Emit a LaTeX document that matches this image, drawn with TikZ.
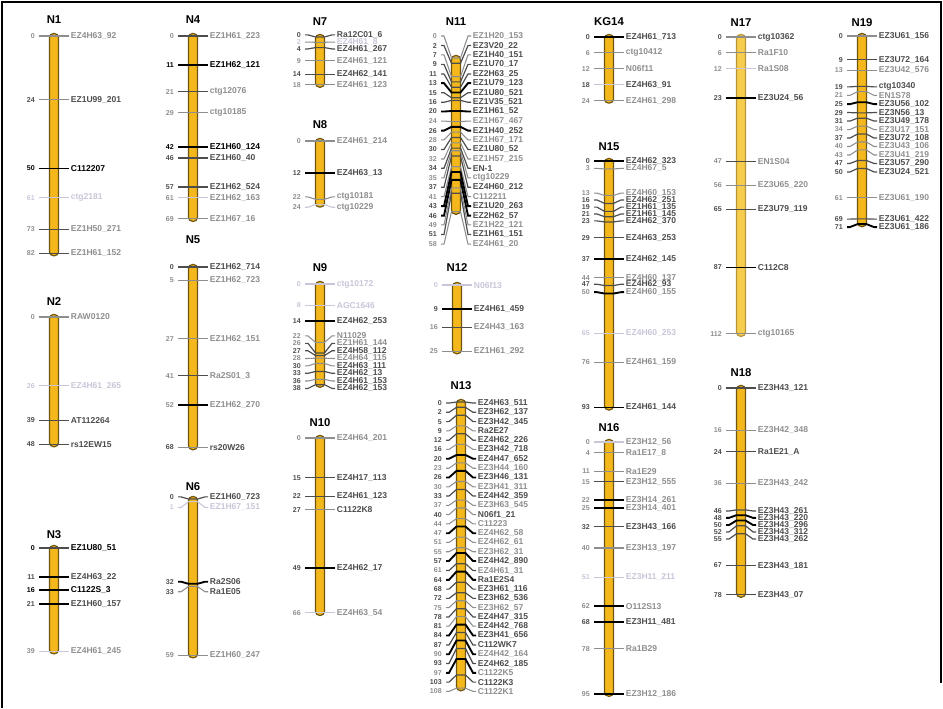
\documentclass[tikz,border=0pt]{standalone}
\usepackage{fontspec}
\setmainfont{Liberation Sans}
\usetikzlibrary{calc}
\definecolor{barfill}{HTML}{F4B81C}
\definecolor{baredge}{HTML}{6E560E}
\definecolor{barfilllt}{HTML}{F6CD4C}
\definecolor{baredgelt}{HTML}{B8953A}
\definecolor{s1}{HTML}{000000}
\definecolor{s2}{HTML}{4D4D4D}
\definecolor{s3}{HTML}{8E8E8E}
\definecolor{s4}{HTML}{C8C6D8}
\tikzset{
  bar/.style={fill=barfill, draw=baredge, line width=0.9pt, rounded corners=3pt},
  barlt/.style={fill=barfilllt, draw=baredgelt, line width=0.9pt, rounded corners=3pt},
  ttl/.style={font=\bfseries\fontsize{8.5}{8.5}\selectfont, inner sep=0pt},
  num/.style={font=\bfseries\fontsize{5.3}{5.3}\selectfont, anchor=east, inner xsep=3pt, inner ysep=0pt},
  lbl/.style={font=\bfseries\fontsize{6.4}{6.4}\selectfont, anchor=west, inner xsep=1.2pt, inner ysep=0pt},
  mk1/.style={draw=s1, line width=1.4pt},
  mk2/.style={draw=s2, line width=0.9pt},
  mk3/.style={draw=s3, line width=0.8pt},
  mk4/.style={draw=s4, line width=0.8pt},
  frame/.style={draw=black, line width=1.2pt},
}
% [bar style]{name}{x}{top y}{length in cM}{title y}{cM/label cM/marker/line shade/text shade}
\newcommand{\chrom}[7][bar]{%
  \pgfmathsetmacro\cbot{#4+#5*2.65}
  \draw[#1] (#3-4.5,#4-2.5) rectangle (#3+4.5,\cbot+2.5);
  \node[ttl] (#2) at (#3,#6) {#2};
  \foreach \pos/\lab/\nm/\ls/\ts [count=\i] in {#7} {
    \pgfmathsetmacro\ty{#4+\pos*2.65}
    \pgfmathsetmacro\ly{#4+\lab*2.65}
    \node[num, text=s\ts] (#2c\i) at (#3-15,\ly) {\pos};
    \node[lbl, text=s\ts] (#2m\i) at (#3+15,\ly) {\nm};
    \draw[mk\ls] (#2c\i.east) -- ++(3,0) -- (#3-4.5,\ty) -- (#3+4.5,\ty)
      -- ($(#2m\i.west)+(-3,0)$) -- (#2m\i.west);
  }
}

\begin{document}
\begin{tikzpicture}[x=0.75pt, y=-0.75pt]
  \useasboundingbox (0,0) rectangle (943,708);
  % frame
  \draw[frame] (2,708) -- (2,2) -- (941,2) -- (941,683);

  % column 1
  \chrom{N1}{54}{36}{82}{20}{0/0/EZ4H63\_92/3/3, 24/24/EZ1U99\_201/3/2, 50/50/C112207/1/1,
    61/61/ctg2181/4/4, 73/73/EZ1H50\_271/2/3, 82/82/EZ1H61\_152/2/3}
  \chrom{N2}{54}{317}{48}{302}{0/0/RAW0120/3/3, 26/26/EZ4H61\_265/4/4, 39/39/AT112264/2/2,
    48/48/rs12EW15/2/2}
  \chrom{N3}{54}{548}{39}{535}{0/0/EZ1U80\_51/2/1, 11/11/EZ4H63\_22/1/2, 16/16/C1122S\_3/1/1,
    21/21/EZ1H60\_157/1/2, 39/39/EZ4H61\_245/4/3}

  % column 2
  \chrom{N4}{193}{36}{69}{20}{0/0/EZ1H61\_223/2/3, 11/11/EZ1H62\_121/1/1, 21/21/ctg12076/2/3,
    29/29/ctg10185/3/3, 42/42/EZ1H60\_124/1/1, 46/46/EZ1H60\_40/2/2, 57/57/EZ1H62\_524/2/2,
    61/61/EZ1H62\_163/4/3, 69/69/EZ1H67\_16/3/3}
  \chrom{N5}{193}{267}{68}{240}{0/0/EZ1H62\_714/2/2, 5/5/EZ1H62\_723/3/3, 27/27/EZ1H62\_151/3/3,
    41/41/Ra2S01\_3/2/3, 52/52/EZ1H62\_270/1/3, 68/68/rs20W26/3/2}
  \chrom{N6}{193}{499}{59}{487}{0/-0.8/EZ1H60\_723/2/2, 1/3.2/EZ1H67\_151/4/4, 32/31.2/Ra2S06/1/2,
    33/35/Ra1E05/3/2, 59/59/EZ1H60\_247/3/3}

  % column 3
  \chrom{N7}{320}{37}{18}{22}{0/-0.8/Ra12C01\_6/2/2, 2/1.9/EZ4H61\_8/3/4, 4/4.5/EZ4H61\_267/2/2,
    9/9/EZ4H61\_121/3/3, 14/14/EZ4H62\_141/2/2, 18/18/EZ4H61\_123/3/3}
  \chrom{N8}{320}{141}{24}{125}{0/0/EZ4H61\_214/3/3, 12/12/EZ4H63\_13/1/2, 22/21.1/ctg10181/3/3,
    24/25/ctg10229/4/3}
  \chrom{N9}{320}{284}{38}{268}{0/0/ctg10172/4/4, 8/8/AGC1646/4/4, 14/14/EZ4H62\_253/1/2,
    22/19.6/N11029/3/3, 26/22.4/EZ1H61\_144/2/3, 27/25.2/EZ4H58\_112/2/2, 28/28.1/EZ4H64\_115/3/3,
    30/30.9/EZ4H63\_111/3/2, 33/33.7/EZ4H62\_13/2/2, 36/36.6/EZ4H61\_153/3/2, 38/39.4/EZ4H62\_153/2/2}
  \chrom{N10}{320}{438}{66}{423}{0/0/EZ4H64\_201/3/3, 15/15/EZ4H17\_113/2/2, 22/22/EZ4H61\_123/2/2,
    27/27/C1122K8/3/2, 49/49/EZ4H62\_17/1/2, 66/66/EZ4H63\_54/4/3}

  % column 4
  \chrom{N11}{456}{58}{58}{22}{0/-8.3/EZ1H20\_153/3/3, 2/-4.7/EZ3V20\_22/2/2, 7/-1.2/EZ1H40\_151/3/2,
    9/2.4/EZ1U70\_17/2/2, 11/6/EZ2H63\_25/2/2, 13/9.5/EZ1U79\_123/1/2, 15/13.1/EZ1U80\_521/2/2,
    16/16.7/EZ1V35\_521/2/2, 20/20.2/EZ1H61\_52/1/2, 24/23.8/EZ1H67\_467/3/3, 26/27.4/EZ1H40\_252/1/2,
    28/30.9/EZ1H67\_171/3/3, 30/34.5/EZ1U80\_52/2/2, 32/38.1/EZ1H57\_215/3/3, 34/41.6/EN-1/2/2,
    35/45.2/ctg10229/3/3, 37/48.8/EZ4H60\_212/2/2, 41/52.3/C112211/3/3, 43/55.9/EZ1U20\_263/1/2,
    46/59.5/EZ2H62\_57/1/2, 49/63/EZ1H22\_121/3/3, 51/66.6/EZ1H61\_151/2/2, 58/70.2/EZ4H61\_20/3/3}
  \chrom{N12}{457}{285}{25}{268}{0/0/N06f13/4/4, 9/9/EZ4H61\_459/1/2, 16/16/EZ4H43\_163/2/3,
    25/25/EZ1H61\_292/3/3}
  \chrom{N13}{461}{402}{108}{386}{0/0.4/EZ4H63\_511/2/2, 2/3.9/EZ3H62\_137/2/2, 5/7.4/EZ3H42\_345/2/2,
    9/10.9/Ra2E27/3/2, 12/14.4/EZ4H62\_226/2/2, 16/17.9/EZ3H42\_718/3/2, 20/21.4/EZ4H47\_652/1/2,
    23/25/EZ3H44\_160/3/3, 26/28.5/EZ3H46\_131/1/2, 30/32/EZ3H41\_311/3/3, 33/35.5/EZ4H42\_359/2/2,
    37/39/EZ3H63\_545/3/3, 40/42.5/N06f1\_21/3/2, 44/46/C11223/3/3, 47/49.5/EZ4H62\_58/1/3,
    51/53/EZ4H62\_61/3/3, 55/56.5/EZ3H62\_31/3/3, 57/60/EZ4H42\_890/1/2, 61/63.6/EZ4H61\_31/2/3,
    64/67.1/Ra1E2S4/1/2, 68/70.6/EZ3H61\_116/2/2, 72/74.1/EZ3H62\_536/2/2, 75/77.6/EZ3H62\_57/3/3,
    78/81.1/EZ4H47\_315/2/2, 81/84.6/EZ4H42\_768/3/2, 84/88.1/EZ3H41\_656/1/2, 87/91.7/C112WK7/2/2,
    90/95.2/EZ4H42\_164/1/3, 93/98.7/EZ4H62\_185/2/2, 97/102.2/C1122K5/1/3, 103/105.7/C1122K3/2/2,
    108/109.2/C1122K1/3/3}

  % column 5
  \chrom{KG14}{609}{37}{24}{22}{0/0/EZ4H61\_713/1/2, 6/6/ctg10412/3/3, 12/12/N06f11/3/3,
    18/18/EZ4H63\_91/4/2, 24/24/EZ4H61\_298/3/3}
  \chrom{N15}{609}{161}{93}{147}{0/0/EZ4H62\_323/1/2, 3/2.8/EZ4H67\_5/3/3, 13/12.1/EZ4H60\_153/3/3,
    16/14.7/EZ4H62\_251/2/2, 19/17.4/EZ1H61\_135/2/2, 21/20/EZ1H61\_145/2/2, 23/22.6/EZ4H62\_370/2/2,
    29/29/EZ4H63\_253/2/2, 37/37/EZ4H62\_145/1/2, 44/44/EZ4H60\_137/3/3, 47/46.5/EZ4H62\_93/2/2,
    50/49.5/EZ4H60\_155/1/3, 65/65/EZ4H60\_253/4/4, 76/76/EZ4H61\_159/3/3, 93/93/EZ4H61\_144/1/2}
  \chrom{N16}{609}{442}{95}{428}{0/0/EZ3H12\_56/4/3, 4/4/Ra1E17\_8/3/3, 11/11/Ra1E29/3/3,
    15/15/EZ3H12\_555/2/3, 22/22/EZ3H14\_261/1/3, 25/25/EZ3H14\_401/1/3, 32/32/EZ3H43\_166/2/2,
    40/40/EZ3H13\_197/3/3, 51/51/EZ3H11\_211/4/4, 62/62/O112S13/1/3, 68/68/EZ3H11\_481/1/2,
    78/78/Ra1B29/3/3, 95/95/EZ3H12\_186/1/3}

  % column 6
  \chrom[barlt]{N17}{741}{37}{112}{23}{0/0/ctg10362/3/2, 6/6/Ra1F10/3/3, 12/12/Ra1S08/4/3,
    23/23/EZ3U24\_56/1/2, 47/47/EN1S04/2/3, 56/56/EZ3U65\_220/3/3, 65/65/EZ3U79\_119/2/2,
    87/87/C112C8/1/2, 112/112/ctg10165/3/3}
  \chrom{N18}{741}{388}{78}{373}{0/0/EZ3H43\_121/2/2, 16/16/EZ3H42\_348/3/3, 24/24/Ra1E21\_A/2/2,
    36/36/EZ3H43\_242/3/3, 46/46.4/EZ3H43\_261/2/2, 48/49/EZ3H43\_220/1/2, 50/51.7/EZ3H43\_296/1/2,
    52/54.3/EZ3H43\_312/2/2, 55/57/EZ3H43\_262/2/2, 67/67/EZ3H43\_181/2/2, 78/78/EZ3H43\_07/2/2}

  % column 7
  \chrom{N19}{862}{36}{71}{23}{0/0/EZ3U61\_156/3/2, 9/9/EZ3U72\_164/2/2, 13/13/EZ3U42\_576/3/3,
    19/19.2/ctg10340/2/2, 21/22.4/EN1S78/3/3, 25/25.7/EZ3U56\_102/1/2, 29/28.9/EZ3N56\_13/2/2,
    31/32.1/EZ3U49\_178/2/2, 34/35.3/EZ3U17\_151/3/3, 37/38.5/EZ3U72\_108/2/2, 40/41.7/EZ3U43\_106/3/3,
    43/44.9/EZ3U41\_219/3/3, 47/48.1/EZ3U57\_290/2/2, 50/51.3/EZ3U24\_521/2/2, 61/61/EZ3U61\_190/3/3,
    69/69.1/EZ3U61\_422/2/2, 71/72.1/EZ3U61\_186/1/2}
\end{tikzpicture}
\end{document}
